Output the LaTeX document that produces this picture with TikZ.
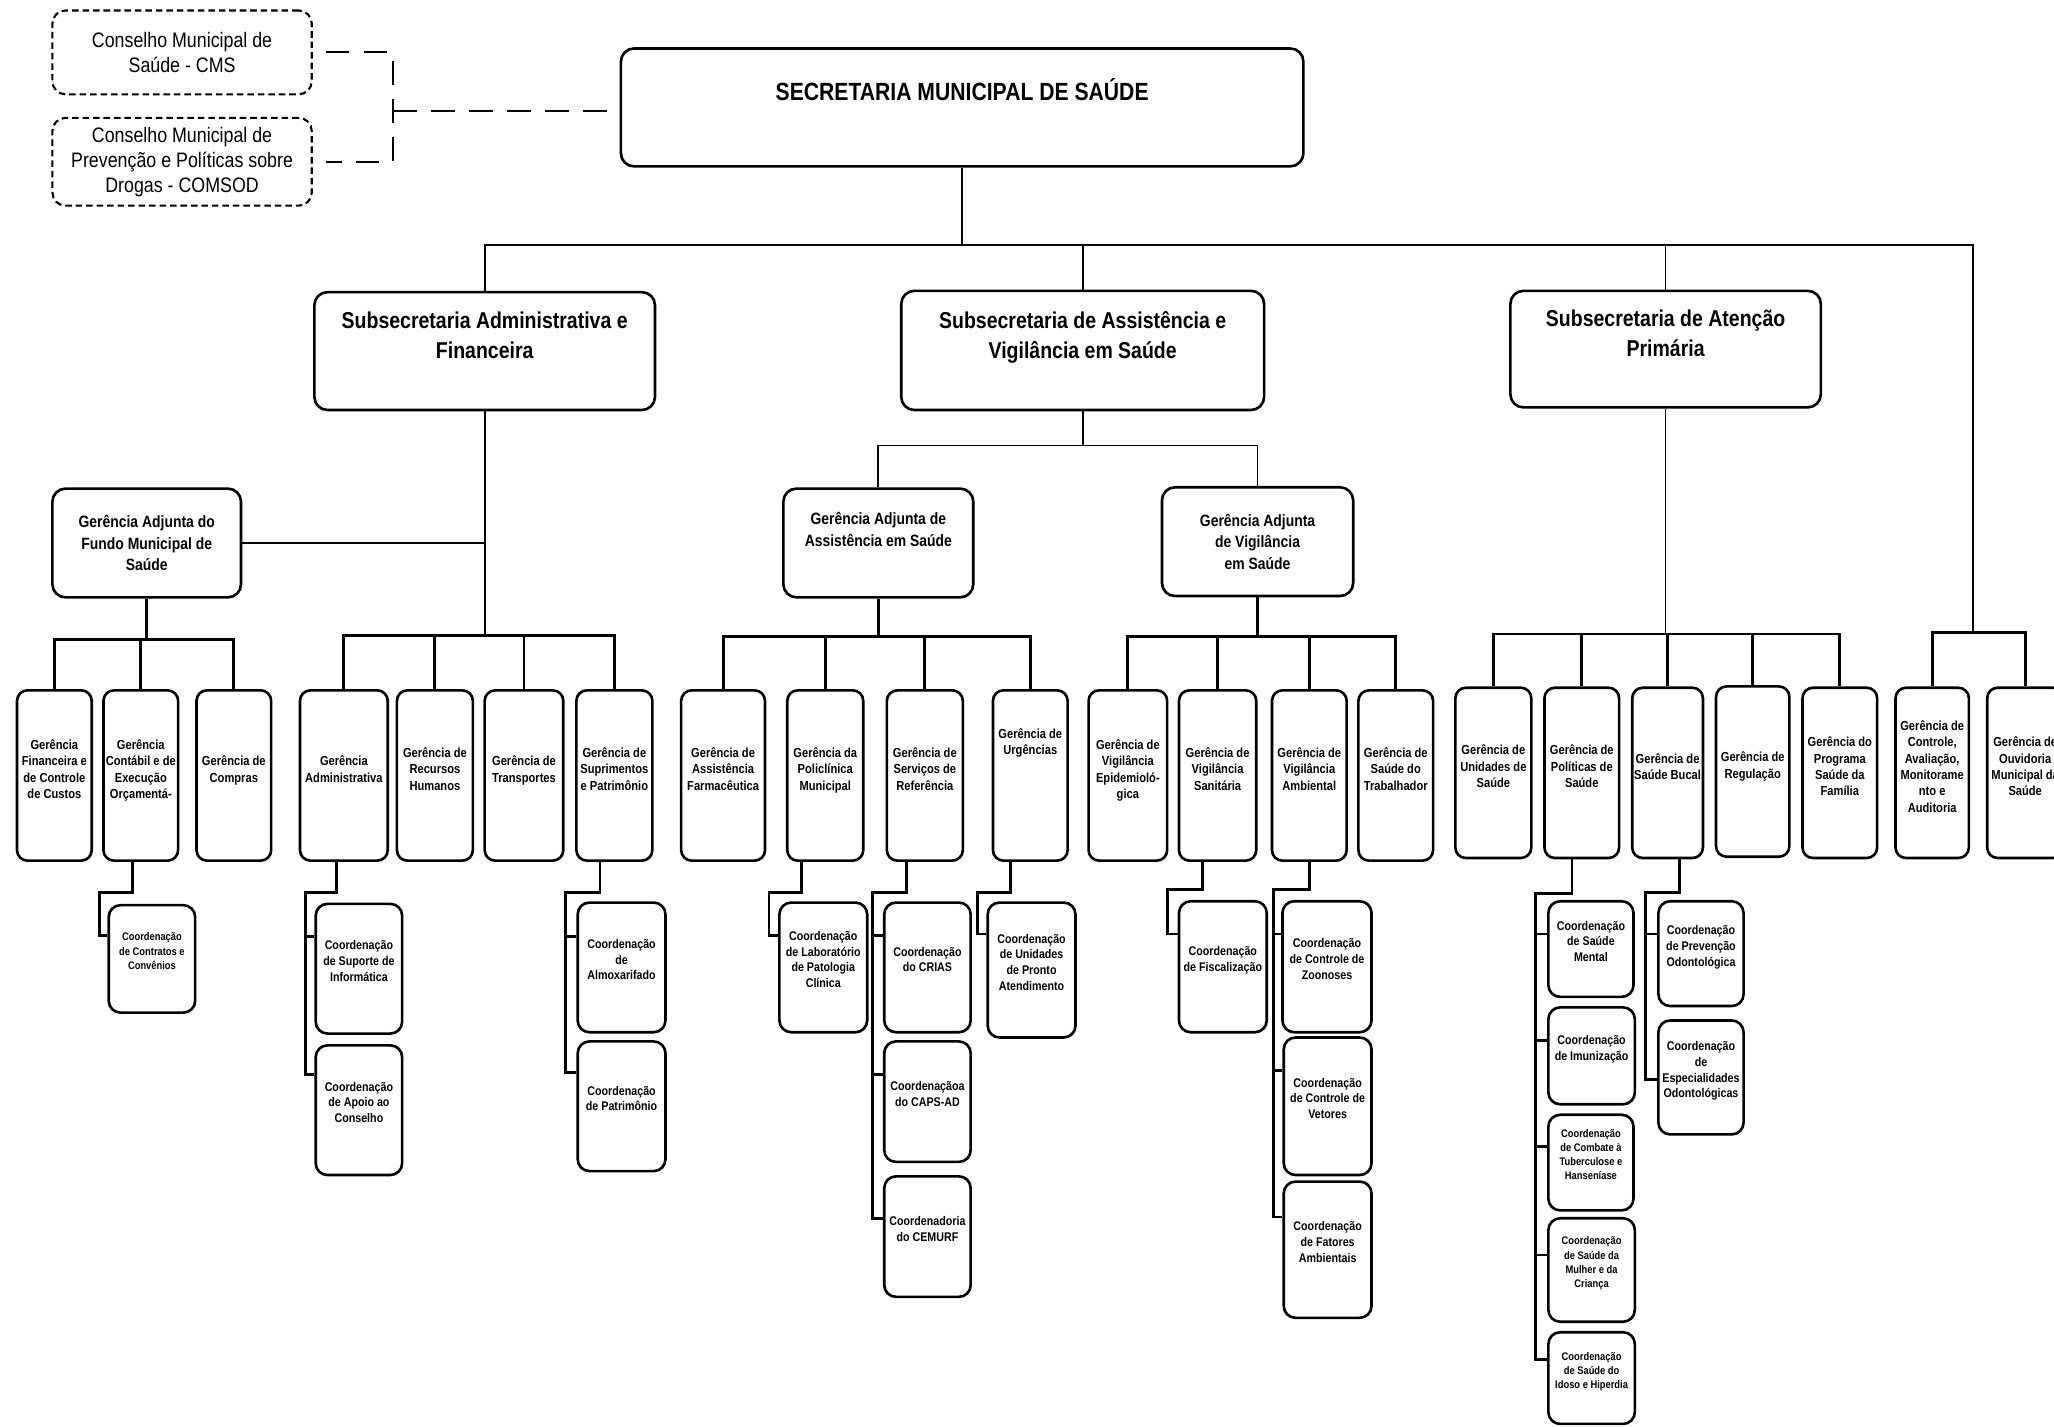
\documentclass[tikz,border=0pt]{standalone}
\usepackage{fontspec}
\setmainfont{Liberation Sans}[FakeStretch=0.85]
\usetikzlibrary{positioning}

\tikzset{conselho/.style = {draw, line width=1.6pt, dash pattern=on 5pt off 3pt,
                            rounded corners=10pt, align=center, inner sep=0pt,
                            minimum width=198pt, font=\fontsize{16}{19}\selectfont}}
\tikzset{secbox/.style = {draw, line width=2pt, rounded corners=10pt, align=center,
                          inner sep=0pt, font=\fontsize{19}{23}\selectfont\bfseries}}
\tikzset{subbox/.style = {draw, line width=2pt, rounded corners=10pt, align=center,
                          inner sep=0pt, text depth=24pt,
                          font=\fontsize{17.5}{23}\selectfont\bfseries}}
\tikzset{adjbox/.style = {draw, line width=2pt, rounded corners=10pt, align=center,
                          inner sep=0pt, minimum width=145pt, minimum height=83pt,
                          font=\fontsize{12.5}{16.5}\selectfont\bfseries}}
\tikzset{gerbox/.style = {draw, line width=2pt, rounded corners=8pt, align=center,
                          inner sep=0pt, minimum height=130pt, text depth=10pt,
                          font=\fontsize{10}{12.5}\selectfont\bfseries}}
\tikzset{coordbox/.style = {draw, line width=2pt, rounded corners=9pt, align=center,
                            inner sep=0pt, minimum width=66pt, minimum height=99pt,
                            text depth=12pt, font=\fontsize{9.6}{12}\selectfont\bfseries}}
\tikzset{coordsm/.style = {coordbox, font=\fontsize{8.4}{10.8}\selectfont\bfseries}}
\tikzset{link/.style = {line width=2.2pt}}
\tikzset{thinlink/.style = {line width=1.3pt}}
\tikzset{dashlink/.style = {line width=1.6pt, dash pattern=on 18pt off 11pt}}

\begin{document}
\begin{tikzpicture}[x=1pt, y=-1pt]
  \path[use as bounding box] (0,0) rectangle (1568,1089);
  \clip (0,0) rectangle (1568,1089);

  % conselhos e secretaria
  \node [conselho, minimum height=64pt] (cms) at (139,40) {Conselho Municipal de\\Saúde - CMS};
  \node [conselho, minimum height=67pt] (comsod) at (139,123.5) {Conselho Municipal de\\Prevenção e Políticas sobre\\Drogas - COMSOD};
  \node [secbox, minimum width=521pt, minimum height=90pt, text depth=28pt] (sms) at (734.5,82) {SECRETARIA MUNICIPAL DE SAÚDE};

  \coordinate (jct) at (300,85);
  \draw [dashlink] ([xshift=10pt]cms.east) -| (jct) |- ([xshift=10pt]comsod.east);
  \draw [dashlink] (jct) -- (jct -| sms.west);

  % subsecretarias
  \node [subbox, minimum width=260pt, minimum height=90pt] (ssaf) at (370,268) {Subsecretaria Administrativa e\\Financeira};
  \node [subbox, minimum width=277pt, minimum height=91pt] (ssavs) at (826.5,267.5) {Subsecretaria de Assistência e\\Vigilância em Saúde};
  \node [subbox, minimum width=237pt, minimum height=89pt] (ssap) at (1271.5,266.5) {Subsecretaria de Atenção\\Primária};

  % gerencias adjuntas
  \node [adjbox, minimum width=144pt] (gafms) at (112,414.5) {Gerência Adjunta do\\Fundo Municipal de\\Saúde};
  \node [adjbox, text depth=21pt] (gaas) at (670.5,414.5) {Gerência Adjunta de\\Assistência em Saúde};
  \node [adjbox, minimum width=146pt] (gavs) at (960,413.5) {Gerência Adjunta\\de Vigilância\\em Saúde};

  % gerencias
  \node [gerbox, minimum width=57pt] (gfcc) at (41.5,592) {Gerência\\Financeira e\\de Controle\\de Custos};
  \node [gerbox, minimum width=57pt] (gceo) at (107.5,592) {Gerência\\Contábil e de\\Execução\\Orçamentá-};
  \node [gerbox, minimum width=57pt] (gcomp) at (178.5,592) {Gerência de\\Compras};
  \node [gerbox, minimum width=67pt] (gadm) at (262.5,592) {Gerência\\Administrativa};
  \node [gerbox, minimum width=58pt] (grh) at (332,592) {Gerência de\\Recursos\\Humanos};
  \node [gerbox, minimum width=60pt] (gtransp) at (400,592) {Gerência de\\Transportes};
  \node [gerbox, minimum width=58pt] (gsp) at (469,592) {Gerência de\\Suprimentos\\e Patrimônio};
  \node [gerbox, minimum width=64pt] (gaf) at (552,592) {Gerência de\\Assistência\\Farmacêutica};
  \node [gerbox, minimum width=58pt] (gpm) at (630,592) {Gerência da\\Policlínica\\Municipal};
  \node [gerbox, minimum width=58pt] (gsr) at (706,592) {Gerência de\\Serviços de\\Referência};
  \node [gerbox, minimum width=57pt, text depth=52pt] (gurg) at (786.5,592) {Gerência de\\Urgências};
  \node [gerbox, minimum width=60pt] (gve) at (861,592) {Gerência de\\Vigilância\\Epidemioló-\\gica};
  \node [gerbox, minimum width=59pt] (gvs) at (929.5,592) {Gerência de\\Vigilância\\Sanitária};
  \node [gerbox, minimum width=57pt] (gva) at (999.5,592) {Gerência de\\Vigilância\\Ambiental};
  \node [gerbox, minimum width=57pt] (gst) at (1065.5,592) {Gerência de\\Saúde do\\Trabalhador};
  \node [gerbox, minimum width=58pt] (gus) at (1140,590) {Gerência de\\Unidades de\\Saúde};
  \node [gerbox, minimum width=57pt] (gps) at (1207.5,590) {Gerência de\\Políticas de\\Saúde};
  \node [gerbox, minimum width=54pt] (gsb) at (1273,590) {Gerência de\\Saúde Bucal};
  \node [gerbox, minimum width=56pt] (greg) at (1338,589) {Gerência de\\Regulação};
  \node [gerbox, minimum width=57pt] (gpsf) at (1404.5,590) {Gerência do\\Programa\\Saúde da\\Família};
  \node [gerbox, minimum width=56pt] (gcaa) at (1475,590) {Gerência de\\Controle,\\Avaliação,\\Monitorame\\nto e\\Auditoria};
  \node [gerbox, minimum width=58pt] (gomu) at (1546,590) {Gerência de\\Ouvidoria\\Municipal da\\Saúde};

  % coordenacoes
  \node [coordsm, minimum height=82pt] (ccc) at (116,732) {Coordenação\\de Contratos e\\Convênios};
  \node [coordbox] (csi) at (274,739.5) {Coordenação\\de Suporte de\\Informática};
  \node [coordbox] (cac) at (274,847.5) {Coordenação\\de Apoio ao\\Conselho};
  \node [coordbox, minimum width=67pt] (calm) at (474.5,738.5) {Coordenação\\de\\Almoxarifado};
  \node [coordbox, minimum width=67pt] (cpat) at (474.5,844.5) {Coordenação\\de Patrimônio};
  \node [coordbox, minimum width=67pt] (clpc) at (628.5,738.5) {Coordenação\\de Laboratório\\de Patologia\\Clínica};
  \node [coordbox] (ccrias) at (708,738.5) {Coordenação\\do CRIAS};
  \node [coordbox, minimum height=92pt] (ccaps) at (708,841) {Coordenaçãoa\\do CAPS-AD};
  \node [coordbox, minimum height=92pt] (ccemurf) at (708,944) {Coordenadoria\\do CEMURF};
  \node [coordbox, minimum width=67pt, minimum height=103pt] (cupa) at (787.5,740.5) {Coordenação\\de Unidades\\de Pronto\\Atendimento};
  \node [coordbox, minimum width=67pt, minimum height=100pt] (cfisc) at (933.5,738) {Coordenação\\de Fiscalização};
  \node [coordbox, minimum width=68pt, minimum height=100pt] (czoo) at (1013,738) {Coordenação\\de Controle de\\Zoonoses};
  \node [coordbox, minimum width=67pt, minimum height=105pt] (cvet) at (1013.5,844.5) {Coordenação\\de Controle de\\Vetores};
  \node [coordbox, minimum width=67pt, minimum height=104pt] (cfat) at (1013.5,954) {Coordenação\\de Fatores\\Ambientais};
  \node [coordbox, minimum width=65pt, minimum height=73pt] (csm) at (1214.5,724.5) {Coordenação\\de Saúde\\Mental};
  \node [coordbox, minimum height=74pt] (cimu) at (1215,806) {Coordenação\\de Imunização};
  \node [coordsm, minimum width=65pt, minimum height=73pt] (ctub) at (1214.5,887.5) {Coordenação\\de Combate à\\Tuberculose e\\Hanseníase};
  \node [coordsm, minimum height=79pt] (cmul) at (1215,969.5) {Coordenação\\de Saúde da\\Mulher e da\\Criança};
  \node [coordsm, minimum height=70pt] (cidoso) at (1215,1052) {Coordenação\\de Saúde do\\Idoso e Hiperdia};
  \node [coordbox, minimum width=65pt, minimum height=80pt] (cpo) at (1298.5,728) {Coordenação\\de Prevenção\\Odontológica};
  \node [coordbox, minimum width=65pt, minimum height=87pt] (ceo) at (1298.5,822.5) {Coordenação\\de\\Especialidades\\Odontológicas};

  % ligacoes do primeiro nivel
  \draw [thinlink] (sms.south) -- ++(0,59) coordinate (b0);
  \coordinate (b4) at (1506,483);
  \draw [thinlink] (b0) -| (ssaf.north);
  \draw [thinlink] (b0) -| (ssavs.north);
  \draw [thinlink] (b0) -| (ssap.north);
  \draw [thinlink] (b0) -| (b4);

  % administrativa e financeira
  \draw [thinlink] (ssaf.south) -- ++(0,171) coordinate (b1);
  \draw [link] (gafms.east) -- (gafms.east -| b1);
  \draw [link] (b1) -| (gadm.north);
  \draw [link] (b1) -| (grh.north);
  \draw [link] (b1) -| (gtransp.north);
  \draw [link] (b1) -| (gsp.north);
  \draw [link] (gafms.south) -- ++(0,31) coordinate (b11);
  \draw [link] (b11) -| (gfcc.north);
  \draw [link] (b11) -| (gceo.north);
  \draw [link] (b11) -| (gcomp.north);

  % assistencia e vigilancia
  \draw [thinlink] (ssavs.south) -- ++(0,26) coordinate (b2);
  \draw [thinlink] (b2) -| (gaas.north);
  \draw [thinlink] (b2) -| (gavs.north);
  \draw [link] (gaas.south) -- ++(0,29) coordinate (b21);
  \draw [link] (b21) -| (gaf.north);
  \draw [link] (b21) -| (gpm.north);
  \draw [link] (b21) -| (gsr.north);
  \draw [link] (b21) -| (gurg.north);
  \draw [link] (gavs.south) -- ++(0,30) coordinate (b22);
  \draw [link] (b22) -| (gve.north);
  \draw [link] (b22) -| (gvs.north);
  \draw [link] (b22) -| (gva.north);
  \draw [link] (b22) -| (gst.north);

  % atencao primaria
  \draw [thinlink] (ssap.south) -- ++(0,172) coordinate (b3);
  \draw [link] (b3) -| (gus.north);
  \draw [link] (b3) -| (gps.north);
  \draw [link] (b3) -| (gsb.north);
  \draw [link] (b3) -| (greg.north);
  \draw [link] (b3) -| (gpsf.north);
  \draw [link] (b4) -| (gcaa.north);
  \draw [link] (b4) -| (gomu.north);

  % coordenacoes
  \coordinate (s1) at (76,681);
  \draw [link] ([xshift=-6.5pt]gceo.south) |- (s1) |- ([yshift=-24pt]ccc.north west);
  \coordinate (s2) at (233,681);
  \draw [link] ([xshift=-5.5pt]gadm.south) |- (s2) |- ([yshift=-26pt]csi.north west);
  \draw [link] (s2) |- ([yshift=-23pt]cac.north west);
  \coordinate (s3) at (432,681);
  \draw [link] ([xshift=-11pt]gsp.south) |- (s3) |- ([yshift=-27pt]calm.north west);
  \draw [link] (s3) |- ([yshift=-25pt]cpat.north west);
  \coordinate (s4) at (587,681);
  \draw [link] ([xshift=-18pt]gpm.south) |- (s4) |- ([yshift=-26pt]clpc.north west);
  \coordinate (s5) at (666,681);
  \draw [link] ([xshift=-14pt]gsr.south) |- (s5) |- ([yshift=-26pt]ccrias.north west);
  \draw [link] (s5) |- ([yshift=-26pt]ccaps.north west);
  \draw [link] (s5) |- ([yshift=-33pt]ccemurf.north west);
  \coordinate (s6) at (746,681);
  \draw [link] ([xshift=-15pt]gurg.south) |- (s6) |- ([yshift=-25pt]cupa.north west);
  \coordinate (s7) at (891,679);
  \draw [link] ([xshift=-11.5pt]gvs.south) |- (s7) |- ([yshift=-26pt]cfisc.north west);
  \coordinate (s8) at (972,679);
  \draw [link] (gva.south) |- (s8) |- ([yshift=-26pt]czoo.north west);
  \draw [link] (s8) |- ([yshift=-26pt]cvet.north west);
  \draw [link] (s8) |- ([yshift=-28pt]cfat.north west);
  \coordinate (s9) at (1172,682);
  \draw [link] ([xshift=-7.5pt]gps.south) |- (s9) |- ([yshift=-26pt]csm.north west);
  \draw [link] (s9) |- ([yshift=-26pt]cimu.north west);
  \draw [link] (s9) |- ([yshift=-25pt]ctub.north west);
  \draw [link] (s9) |- ([yshift=-29pt]cmul.north west);
  \draw [link] (s9) |- ([yshift=-22pt]cidoso.north west);
  \coordinate (s10) at (1256,681);
  \draw [link] ([xshift=9pt]gsb.south) |- (s10) |- ([yshift=-26pt]cpo.north west);
  \draw [link] (s10) |- ([yshift=-46pt]ceo.north west);
\end{tikzpicture}
\end{document}
